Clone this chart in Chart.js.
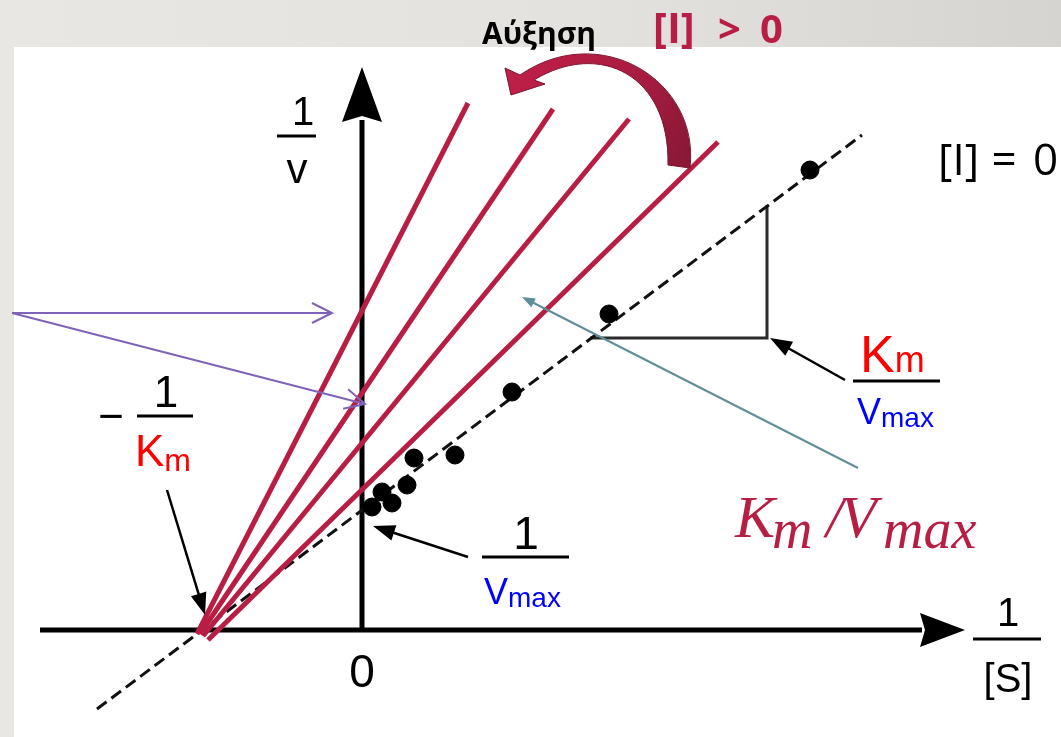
<!DOCTYPE html>
<html>
<head>
<meta charset="utf-8">
<script src="https://cdn.jsdelivr.net/npm/chart.js@4.4.1/dist/chart.umd.min.js"></script>
<style>
	html, body { margin: 0; padding: 0; }
	body {
		width: 1061px; height: 737px; overflow: hidden; position: relative;
		background: linear-gradient(90deg, #e9e7e3 0%, #e4e2de 55%, #d6d4d0 100%);
	}
	#panel { position: absolute; left: 14px; top: 47px; right: 0; bottom: 0; background: #fff; }
	#lbChart { position: absolute; left: 0; top: 0; }
</style>
</head>
<body>
<div id="panel"></div>
<canvas id="lbChart" width="1061" height="737"></canvas>
<script>
// Lineweaver-Burk plot, competitive inhibition (1/v against 1/[S])

// no inhibitor: fitted dashed line and measured points
const ctrlX = [-2.65, 5.0];
const ctrlY = [-0.79, 4.95];
const obsX = [0.10, 0.20, 0.30, 0.45, 0.52, 0.93, 1.50, 2.47, 4.48];
const obsY = [1.23, 1.38, 1.27, 1.45, 1.72, 1.75, 2.38, 3.16, 4.60];

// rising inhibitor concentration, least to most steep
const inh1X = [-1.54, 3.56], inh1Y = [-0.10, 4.88];
const inh2X = [-1.59, 2.67], inh2Y = [-0.06, 5.11];
const inh3X = [-1.62, 1.91], inh3Y = [-0.04, 5.21];
const inh4X = [-1.65, 1.06], inh4Y = [-0.04, 5.27];

// slope triangle under the dashed line
const triX = [2.28, 4.05, 4.05];
const triY = [2.92, 2.92, 4.25];

// axes shafts
const axisHX = [-3.22, 5.6], axisHY = [0, 0];
const axisVX = [0, 0], axisVY = [0, 5.1];

const RED = '#b81e44';
const SANS = '"Liberation Sans", Arial, sans-serif';
const CAL = '"Open Sans", "Noto Sans", sans-serif';
const SERIF = '"Liberation Serif", "DejaVu Serif", serif';

function pts(xs, ys) {
	return xs.map((x, i) => ({ x, y: ys[i] }));
}

function lineSet(xs, ys, color, width, order, dash) {
	return {
		data: pts(xs, ys),
		showLine: true,
		borderColor: color,
		borderWidth: width,
		borderDash: dash || [],
		pointRadius: 0,
		borderCapStyle: 'butt',
		order
	};
}

function filledHead(ctx, tip, from, len, half, color, notch) {
	const a = Math.atan2(tip.y - from.y, tip.x - from.x);
	const c = Math.cos(a), s = Math.sin(a);
	const bx = tip.x - len * c, by = tip.y - len * s;
	ctx.beginPath();
	ctx.moveTo(tip.x, tip.y);
	ctx.lineTo(bx + half * s, by - half * c);
	ctx.lineTo(tip.x - (len - (notch || 0)) * c, tip.y - (len - (notch || 0)) * s);
	ctx.lineTo(bx - half * s, by + half * c);
	ctx.closePath();
	ctx.fillStyle = color;
	ctx.fill();
}

function arrow(ctx, from, to, color, width, len, half, open) {
	const a = Math.atan2(to.y - from.y, to.x - from.x);
	const c = Math.cos(a), s = Math.sin(a);
	ctx.strokeStyle = color;
	ctx.lineWidth = width;
	ctx.beginPath();
	ctx.moveTo(from.x, from.y);
	if (open) ctx.lineTo(to.x, to.y);
	else ctx.lineTo(to.x - (len - 2) * c, to.y - (len - 2) * s);
	ctx.stroke();
	if (open) {
		ctx.beginPath();
		ctx.moveTo(to.x - len * c + half * s, to.y - len * s - half * c);
		ctx.lineTo(to.x, to.y);
		ctx.lineTo(to.x - len * c - half * s, to.y - len * s + half * c);
		ctx.stroke();
	} else {
		filledHead(ctx, to, from, len, half, color, 0);
	}
}

function text(ctx, p, str, font, color, align) {
	ctx.font = font;
	ctx.fillStyle = color;
	ctx.textAlign = align || 'center';
	ctx.textBaseline = 'alphabetic';
	ctx.fillText(str, p.x, p.y);
}

function subText(ctx, p, main, sub, color, mainFont, subFont, drop) {
	text(ctx, p, main, mainFont, color, 'left');
	const w = ctx.measureText(main).width;
	text(ctx, { x: p.x + w, y: p.y + drop }, sub, subFont, color, 'left');
}

function bar(ctx, a, b) {
	ctx.strokeStyle = '#000';
	ctx.lineWidth = 3;
	ctx.beginPath();
	ctx.moveTo(a.x, a.y);
	ctx.lineTo(b.x, b.y);
	ctx.stroke();
}

const annotations = {
	id: 'annotations',
	afterDatasetsDraw(chart) {
		const { ctx } = chart;
		const sx = chart.scales.x, sy = chart.scales.y;
		const P = (x, y) => ({ x: sx.getPixelForValue(x), y: sy.getPixelForValue(y) });
		ctx.save();

		// axis arrowheads
		filledHead(ctx, P(6.03, 0), P(5, 0), 45, 17, '#000', 5);
		filledHead(ctx, P(0, 5.63), P(0, 5), 55, 20, '#000', 6);

		// axis titles
		text(ctx, P(-0.59, 5.05), '1', `40px ${SANS}`, '#000');
		bar(ctx, P(-0.85, 4.94), P(-0.46, 4.94));
		text(ctx, P(-0.65, 4.47), 'v', `42px ${SANS}`, '#000');
		text(ctx, P(6.46, 0.04), '1', `40px ${SANS}`, '#000');
		bar(ctx, P(6.11, -0.09), P(6.79, -0.09));
		text(ctx, P(6.46, -0.62), '[S]', `40px ${SANS}`, '#000');
		text(ctx, P(0, -0.57), '0', `46px ${SANS}`, '#000');

		// -1/Km
		text(ctx, P(-2.51, 1.99), '−', `44px ${SANS}`, '#000');
		text(ctx, P(-1.96, 2.23), '1', `44px ${SANS}`, '#000');
		bar(ctx, P(-2.25, 2.14), P(-1.69, 2.14));
		subText(ctx, P(-2.27, 1.64), 'K', 'm', '#ff0000', `44px ${SANS}`, `32px ${SANS}`, 5);
		arrow(ctx, P(-1.95, 1.40), P(-1.57, 0.15), '#000', 2.5, 22, 8);

		// 1/Vmax
		text(ctx, P(1.64, 0.81), '1', `46px ${SANS}`, '#000');
		bar(ctx, P(1.20, 0.73), P(2.07, 0.73));
		subText(ctx, P(1.22, 0.26), 'V', 'max', '#0000ff', `36px ${SANS}`, `28px ${SANS}`, 3);
		arrow(ctx, P(1.06, 0.73), P(0.11, 1.04), '#000', 2.5, 22, 8);

		// Km/Vmax beside the slope triangle
		subText(ctx, P(4.98, 2.58), 'K', 'm', '#ff0000', `52px ${SANS}`, `36px ${SANS}`, 0);
		bar(ctx, P(4.91, 2.49), P(5.78, 2.49));
		subText(ctx, P(4.95, 2.06), 'V', 'max', '#0000ff', `36px ${SANS}`, `28px ${SANS}`, 3);
		arrow(ctx, P(4.83, 2.50), P(4.08, 2.92), '#000', 2.5, 22, 8);

		// pointers onto the y axis
		arrow(ctx, P(-3.50, 3.17), P(-0.30, 3.17), '#7e63b8', 2, 20, 10, true);
		arrow(ctx, P(-3.50, 3.17), P(0.03, 2.26), '#7e63b8', 2, 20, 10, true);
		arrow(ctx, P(4.96, 1.62), P(1.60, 3.33), '#5f8e99', 2, 13, 5);

		// big slope label
		const big = `italic 60px ${SERIF}`;
		const bigSub = `italic 56px ${SERIF}`;
		text(ctx, P(3.73, 0.93), 'K', big, RED, 'left');
		text(ctx, P(4.10, 0.82), 'm', bigSub, RED, 'left');
		text(ctx, P(4.64, 0.93), '/', big, RED, 'left');
		text(ctx, P(4.78, 0.93), 'V', big, RED, 'left');
		text(ctx, P(5.21, 0.82), 'max', bigSub, RED, 'left');

		// inhibitor labels
		text(ctx, P(1.20, 5.86), 'Αύξηση', `bold 30px ${CAL}`, '#000', 'left');
		text(ctx, P(2.91, 5.87), '[I]', `bold 42px ${CAL}`, RED, 'left');
		text(ctx, P(3.56, 5.87), '>', `bold 40px ${CAL}`, RED, 'left');
		text(ctx, P(3.98, 5.87), '0', `bold 40px ${CAL}`, RED, 'left');
		text(ctx, P(5.76, 4.55), '[I]', `44px ${CAL}`, '#000', 'left');
		text(ctx, P(6.42, 4.55), '=', `44px ${CAL}`, '#000', 'center');
		text(ctx, P(6.71, 4.55), '0', `44px ${CAL}`, '#000', 'left');

		// curved arrow sweeping toward the steeper lines
		const oS = P(3.28, 4.62), oC1 = P(3.38, 5.50), oC2 = P(2.38, 6.10), oE = P(1.58, 5.55);
		const iS = P(1.72, 5.50), iC1 = P(2.38, 5.90), iC2 = P(3.08, 5.55), iE = P(3.06, 4.65);
		const hA = P(1.43, 5.62), hT = P(1.49, 5.35), hB = P(1.83, 5.46);
		const grad = ctx.createLinearGradient(hT.x, hT.y, oS.x, oS.y);
		grad.addColorStop(0, '#bd1f46');
		grad.addColorStop(0.6, '#a81c40');
		grad.addColorStop(1, '#861833');
		ctx.beginPath();
		ctx.moveTo(oS.x, oS.y);
		ctx.bezierCurveTo(oC1.x, oC1.y, oC2.x, oC2.y, oE.x, oE.y);
		ctx.lineTo(hA.x, hA.y);
		ctx.lineTo(hT.x, hT.y);
		ctx.lineTo(hB.x, hB.y);
		ctx.lineTo(iS.x, iS.y);
		ctx.bezierCurveTo(iC1.x, iC1.y, iC2.x, iC2.y, iE.x, iE.y);
		ctx.closePath();
		ctx.fillStyle = grad;
		ctx.fill();
		ctx.strokeStyle = '#7a1530';
		ctx.lineWidth = 1;
		ctx.stroke();

		ctx.restore();
	}
};

new Chart(document.getElementById('lbChart'), {
	type: 'scatter',
	data: {
		datasets: [
			lineSet(axisHX, axisHY, '#000', 5, 6),
			lineSet(axisVX, axisVY, '#000', 5, 6),
			lineSet(triX, triY, '#2b2b2b', 3, 5),
			lineSet(ctrlX, ctrlY, '#111', 3, 4, [12, 6]),
			{
				data: pts(obsX, obsY),
				backgroundColor: '#000',
				borderColor: '#000',
				pointRadius: 9,
				order: 3
			},
			lineSet(inh1X, inh1Y, RED, 5, 1),
			lineSet(inh2X, inh2Y, RED, 5, 1),
			lineSet(inh3X, inh3Y, RED, 5, 1),
			lineSet(inh4X, inh4Y, RED, 5, 1)
		]
	},
	options: {
		responsive: false,
		animation: false,
		layout: { padding: 0, autoPadding: false },
		plugins: {
			legend: { display: false },
			tooltip: { enabled: false }
		},
		scales: {
			x: { type: 'linear', min: -3.62, max: 6.99, display: false },
			y: { type: 'linear', min: -1.07, max: 6.30, display: false }
		}
	},
	plugins: [annotations]
});
</script>
</body>
</html>
